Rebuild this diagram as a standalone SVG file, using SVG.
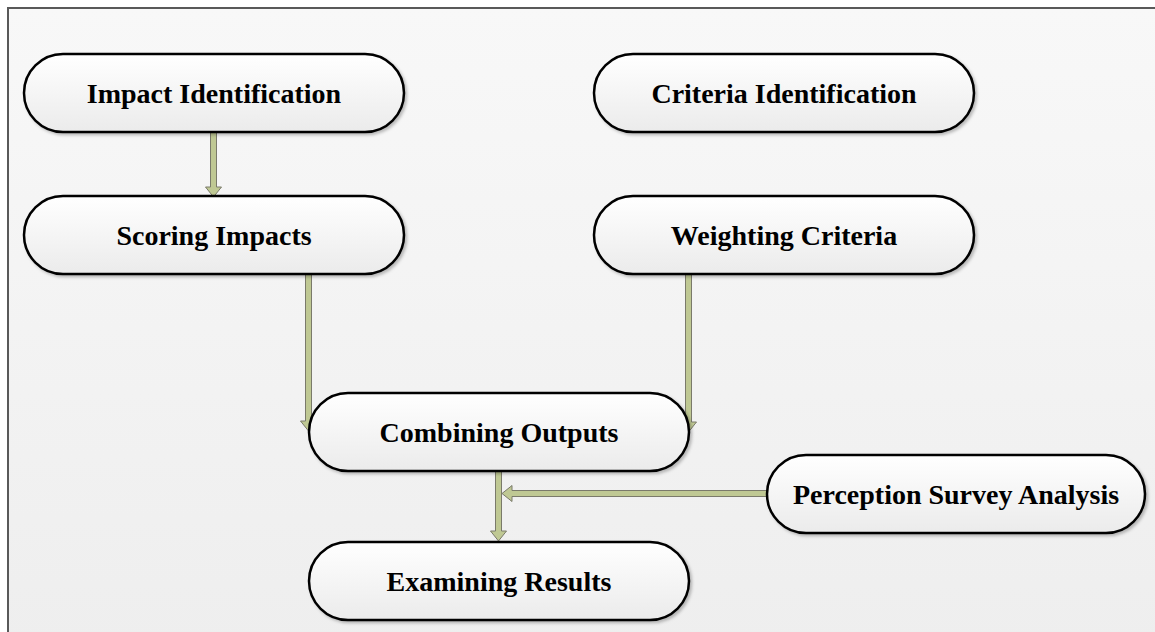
<svg xmlns="http://www.w3.org/2000/svg" width="1155" height="632" viewBox="0 0 1155 632">
<defs>
<linearGradient id="bg" x1="0" y1="0" x2="0" y2="1">
<stop offset="0" stop-color="#f8f8f8"/>
<stop offset="1" stop-color="#eeeeee"/>
</linearGradient>
<linearGradient id="ng" x1="0" y1="0" x2="0" y2="1">
<stop offset="0" stop-color="#ffffff"/>
<stop offset="1" stop-color="#ebebeb"/>
</linearGradient>
<filter id="sh" x="-5%" y="-10%" width="110%" height="130%">
<feDropShadow dx="2" dy="2" stdDeviation="1.5" flood-color="#000" flood-opacity="0.25"/>
</filter>
</defs>
<style>
.node rect{fill:url(#ng);stroke:#000;stroke-width:2.5;filter:url(#sh)}
.node text{font-family:"Liberation Serif","Times New Roman",serif;font-weight:bold;font-size:28px;fill:#000;text-anchor:middle}
.arr{fill:#bfc893;stroke:#7a7a6a;stroke-width:1}
</style>
<rect x="8" y="8" width="1160" height="640" fill="url(#bg)" stroke="#595959" stroke-width="2"/>
<g id="connectors">
<polygon class="arr" points="210.5,132 216.5,132 216.5,187 221.5,187 213.5,197 205.5,187 210.5,187"/>
<polygon class="arr" points="305.5,274 311.5,274 311.5,421 316.5,421 308.5,431 300.5,421 305.5,421"/>
<polygon class="arr" points="685.5,274 691.5,274 691.5,422 696.5,422 688.5,432 680.5,422 685.5,422"/>
<polygon class="arr" points="495.5,471 501.5,471 501.5,531 506.5,531 498.5,541 490.5,531 495.5,531"/>
<polygon class="arr" points="767,490.5 767,496.5 512,496.5 512,501.5 502,493.5 512,485.5 512,490.5"/>
</g>
<g id="impact-identification" class="node"><rect x="24" y="54" width="380" height="78" rx="39"/><text x="214" y="103">Impact Identification</text></g>
<g id="scoring-impacts" class="node"><rect x="24" y="196" width="380" height="78" rx="39"/><text x="214" y="245">Scoring Impacts</text></g>
<g id="criteria-identification" class="node"><rect x="594" y="54" width="380" height="78" rx="39"/><text x="784" y="103">Criteria Identification</text></g>
<g id="weighting-criteria" class="node"><rect x="594" y="196" width="380" height="78" rx="39"/><text x="784" y="245">Weighting Criteria</text></g>
<g id="combining-outputs" class="node"><rect x="309" y="393" width="380" height="78" rx="39"/><text x="499" y="442">Combining Outputs</text></g>
<g id="perception-survey-analysis" class="node"><rect x="767" y="455" width="378" height="78" rx="39"/><text x="956" y="504">Perception Survey Analysis</text></g>
<g id="examining-results" class="node"><rect x="309" y="542" width="380" height="78" rx="39"/><text x="499" y="591">Examining Results</text></g>
</svg>
